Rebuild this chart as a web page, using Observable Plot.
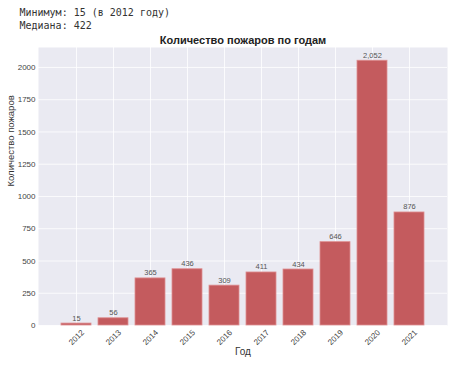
<!DOCTYPE html>
<html>
<head>
<meta charset="utf-8">
<script src="https://cdn.jsdelivr.net/npm/d3@7"></script>
<script src="https://cdn.jsdelivr.net/npm/@observablehq/plot@0.6"></script>
<style>
  body { margin: 0; background: #fff; }
  #chart { position: relative; width: 450px; height: 366px; }
</style>
</head>
<body>
<div id="chart"></div>
<script>
const years = ["2012","2013","2014","2015","2016","2017","2018","2019","2020","2021"];
const fires = [15, 56, 365, 436, 309, 411, 434, 646, 2052, 876];
const yTicks = [0, 250, 500, 750, 1000, 1250, 1500, 1750, 2000];
const headerLines = ["Минимум: 15 (в 2012 году)", "Медиана: 422"];
const titleText = "Количество пожаров по годам";
const xLabel = "Год";
const yLabel = "Количество пожаров";

const data = years.map((y, i) => ({year: y, value: fires[i]}));
const font = "Liberation Sans, Arial, sans-serif";

const chart = Plot.plot({
  width: 450,
  height: 366,
  marginTop: 47,
  marginBottom: 41,
  marginLeft: 38,
  marginRight: 3,
  style: {fontFamily: font, background: "#fff", overflow: "visible"},
  x: {type: "band", domain: years, paddingInner: 0.2, paddingOuter: 0.49, label: null},
  y: {domain: [0, d3.max(fires) * 1.05], label: null},
  marks: [
    Plot.frame({fill: "#eaeaf2", stroke: null}),
    Plot.gridY(yTicks, {stroke: "#fff", strokeOpacity: 1, strokeWidth: 0.8}),
    Plot.gridX({stroke: "#fff", strokeOpacity: 1, strokeWidth: 0.8}),
    Plot.barY(data, {x: "year", y: "value", fill: "#c45b5e", stroke: "#de8f91", strokeWidth: 0.8}),
    Plot.text(data, {x: "year", y: "value", text: d => d3.format(",")(d.value), lineAnchor: "bottom", dy: -3, fontSize: 7.5, fill: "#555"}),
    Plot.axisY({ticks: yTicks, tickSize: 0, tickPadding: 3, fontSize: 8, color: "#444", tickFormat: d => String(d), label: null}),
    Plot.axisX({tickSize: 0, tickPadding: 12, tickRotate: -45, textAnchor: "middle", lineAnchor: "middle", fontSize: 8, color: "#444", label: null}),
    Plot.text([yLabel], {frameAnchor: "left", dx: -28, rotate: -90, fontSize: 9.5, fill: "#333"}),
    Plot.text([xLabel], {frameAnchor: "bottom", dy: 29, fontSize: 10, fill: "#333"}),
    Plot.text([titleText], {frameAnchor: "top", dy: -11, fontSize: 11, fontWeight: "bold", fill: "#222"}),
    Plot.text([headerLines[0]], {frameAnchor: "top-left", dx: -19, dy: -39, textAnchor: "start", fontFamily: "DejaVu Sans Mono, monospace", fontSize: 10, fill: "#333"}),
    Plot.text([headerLines[1]], {frameAnchor: "top-left", dx: -19, dy: -26, textAnchor: "start", fontFamily: "DejaVu Sans Mono, monospace", fontSize: 10, fill: "#333"})
  ]
});
document.getElementById("chart").appendChild(chart);
</script>
</body>
</html>
